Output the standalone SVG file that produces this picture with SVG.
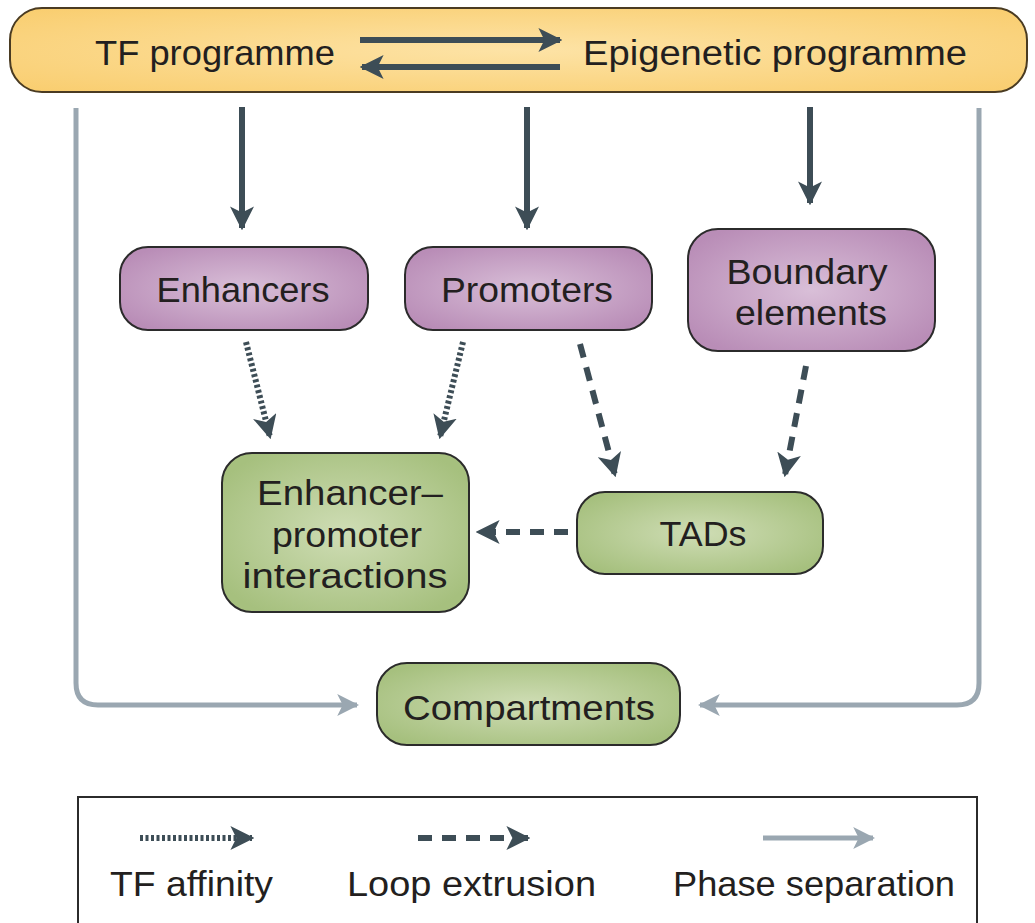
<svg xmlns="http://www.w3.org/2000/svg" width="1035" height="923" viewBox="0 0 1035 923">
  <style>
    .lbl { font-family: "Liberation Sans", "Open Sans", sans-serif; font-size: 35px; fill: #231f20; text-anchor: middle; }
    .leg { font-family: "Liberation Sans", "Open Sans", sans-serif; font-size: 35px; fill: #231f20; }
    .box { stroke: #2b2b2b; stroke-width: 2; }
    .solid { stroke: #3d4d56; stroke-width: 6; fill: none; }
    .dot { stroke: #3d4d56; stroke-width: 6; fill: none; stroke-dasharray: 3 2.5; }
    .dash { stroke: #3d4d56; stroke-width: 6; fill: none; stroke-dasharray: 14 10; }
    .phase { stroke: #9aa7b1; stroke-width: 5; fill: none; }
  </style>
  <defs>
    <radialGradient id="gOrange" cx="0.5" cy="0.5" r="0.7">
      <stop offset="0" stop-color="#fde3a6"/>
      <stop offset="1" stop-color="#f9cd6e"/>
    </radialGradient>
    <radialGradient id="gPurple" cx="0.5" cy="0.5" r="0.6">
      <stop offset="0" stop-color="#d9bfd8"/>
      <stop offset="1" stop-color="#b98db7"/>
    </radialGradient>
    <radialGradient id="gGreen" cx="0.5" cy="0.5" r="0.6">
      <stop offset="0" stop-color="#cfddb5"/>
      <stop offset="1" stop-color="#a6c07e"/>
    </radialGradient>
    <marker id="ah" viewBox="0 0 10 10" refX="9" refY="5" markerWidth="4" markerHeight="4" orient="auto" markerUnits="strokeWidth">
      <path d="M0,0 L10,5 L0,10 L2.5,5 Z" fill="#3d4d56"/>
    </marker>
    <marker id="ahGrey" viewBox="0 0 10 10" refX="9" refY="5" markerWidth="4.4" markerHeight="4.4" orient="auto" markerUnits="strokeWidth">
      <path d="M0,0 L10,5 L0,10 L2.5,5 Z" fill="#9aa7b1"/>
    </marker>
  </defs>

  <!-- programme bar -->
  <g id="programmes">
    <rect x="10" y="8" width="1017" height="84" rx="32" fill="url(#gOrange)" stroke="#4a3b22" stroke-width="2"/>
    <text class="lbl" x="215" y="65" textLength="240" lengthAdjust="spacingAndGlyphs">TF programme</text>
    <text class="lbl" x="775" y="65" textLength="384" lengthAdjust="spacingAndGlyphs">Epigenetic programme</text>
  </g>

  <g id="enhancers">
    <rect class="box" x="120" y="247" width="248" height="83" rx="28" fill="url(#gPurple)"/>
    <text class="lbl" x="243" y="302" textLength="173" lengthAdjust="spacingAndGlyphs">Enhancers</text>
  </g>
  <g id="promoters">
    <rect class="box" x="405" y="247" width="247" height="83" rx="28" fill="url(#gPurple)"/>
    <text class="lbl" x="527" y="302" textLength="172" lengthAdjust="spacingAndGlyphs">Promoters</text>
  </g>
  <g id="boundary">
    <rect class="box" x="688" y="229" width="247" height="122" rx="30" fill="url(#gPurple)"/>
    <text class="lbl" x="807" y="284" textLength="161" lengthAdjust="spacingAndGlyphs">Boundary</text>
    <text class="lbl" x="811" y="325" textLength="152" lengthAdjust="spacingAndGlyphs">elements</text>
  </g>
  <g id="ep-interactions">
    <rect class="box" x="222" y="453" width="247" height="159" rx="30" fill="url(#gGreen)"/>
    <text class="lbl" x="350" y="505" textLength="186" lengthAdjust="spacingAndGlyphs">Enhancer–</text>
    <text class="lbl" x="347" y="547" textLength="150" lengthAdjust="spacingAndGlyphs">promoter</text>
    <text class="lbl" x="345" y="588" textLength="205" lengthAdjust="spacingAndGlyphs">interactions</text>
  </g>
  <g id="tads">
    <rect class="box" x="577" y="492" width="246" height="82" rx="28" fill="url(#gGreen)"/>
    <text class="lbl" x="703" y="546" textLength="87" lengthAdjust="spacingAndGlyphs">TADs</text>
  </g>
  <g id="compartments">
    <rect class="box" x="377" y="663" width="303" height="82" rx="30" fill="url(#gGreen)"/>
    <text class="lbl" x="529" y="720" textLength="252" lengthAdjust="spacingAndGlyphs">Compartments</text>
  </g>

  <!-- connectors -->
  <g id="connectors">
    <line class="solid" x1="360" y1="40" x2="560" y2="40" marker-end="url(#ah)"/>
    <line class="solid" x1="560" y1="67" x2="362" y2="67" marker-end="url(#ah)"/>
    <line class="solid" x1="242" y1="107" x2="242" y2="228" marker-end="url(#ah)"/>
    <line class="solid" x1="527" y1="107" x2="527" y2="228" marker-end="url(#ah)"/>
    <line class="solid" x1="810" y1="107" x2="810" y2="203" marker-end="url(#ah)"/>
    <line class="dot" x1="246" y1="342" x2="270" y2="437" marker-end="url(#ah)"/>
    <line class="dot" x1="463" y1="342" x2="440" y2="437" marker-end="url(#ah)"/>
    <line class="dash" x1="580" y1="344" x2="615" y2="475" marker-end="url(#ah)"/>
    <line class="dash" x1="806" y1="366" x2="785" y2="475" marker-end="url(#ah)"/>
    <line class="dash" x1="568" y1="532" x2="478" y2="532" marker-end="url(#ah)"/>
    <path class="phase" d="M76,108 V683 Q76,705 98,705 H357" marker-end="url(#ahGrey)"/>
    <path class="phase" d="M979,108 V683 Q979,705 957,705 H700" marker-end="url(#ahGrey)"/>
  </g>

  <!-- key -->
  <g id="legend">
    <rect x="78" y="797" width="899" height="140" fill="#ffffff" stroke="#2b2b2b" stroke-width="2"/>
    <line class="dot" x1="140" y1="838" x2="252" y2="838" marker-end="url(#ah)"/>
    <line class="dash" x1="418" y1="838" x2="528" y2="838" marker-end="url(#ah)"/>
    <line class="phase" x1="763" y1="838" x2="873" y2="838" marker-end="url(#ahGrey)"/>
    <text class="leg" x="110" y="896" textLength="163" lengthAdjust="spacingAndGlyphs">TF affinity</text>
    <text class="leg" x="347" y="896" textLength="249" lengthAdjust="spacingAndGlyphs">Loop extrusion</text>
    <text class="leg" x="673" y="896" textLength="282" lengthAdjust="spacingAndGlyphs">Phase separation</text>
  </g>
</svg>
